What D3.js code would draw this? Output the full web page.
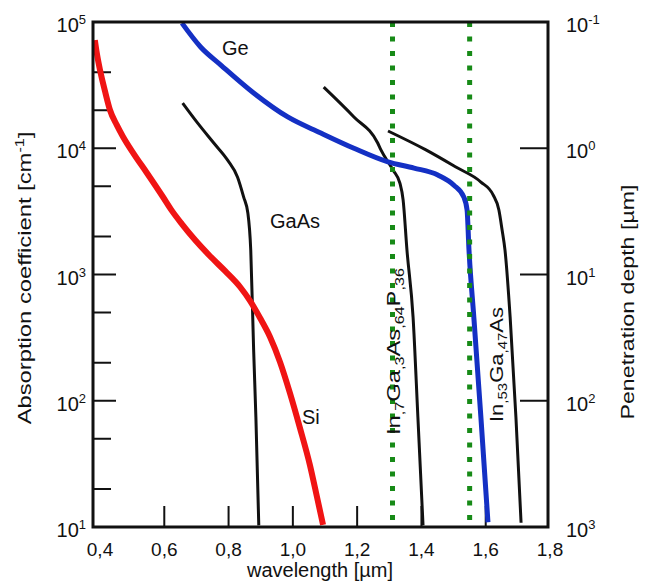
<!DOCTYPE html>
<html>
<head>
<meta charset="utf-8">
<script src="https://cdn.jsdelivr.net/npm/d3@7/dist/d3.min.js"></script>
<style>
  body { margin: 0; background: #fff; }
  svg text { font-family: "Liberation Sans", Arial, sans-serif; fill: #111; }
</style>
</head>
<body>
<script>
// values: wavelength in µm, absorption coefficient in cm^-1
var siWl      = [0.384, 0.390, 0.400, 0.416, 0.431, 0.452, 0.472, 0.504, 0.546, 0.596, 0.624, 0.655, 0.696, 0.742, 0.789, 0.836, 0.867, 0.898, 0.929, 0.960, 0.991, 1.022, 1.053, 1.075, 1.094];
var siAlpha   = [71900, 56800, 41700, 28000, 20100, 15300, 12300, 9120, 6370, 4110, 3190, 2510, 1876, 1402, 1067, 796, 617, 452, 320, 203, 115, 61, 31, 17.3, 10.4];

var geWl      = [0.655, 0.713, 0.776, 0.878, 0.984, 1.087, 1.190, 1.296, 1.377, 1.451, 1.501, 1.532, 1.542, 1.548, 1.563, 1.585, 1.607];
var geAlpha   = [98000, 63400, 45600, 27400, 17700, 13200, 10000, 7800, 6970, 6140, 5100, 4100, 3240, 1560, 460, 74, 10.9];

var gaasWl    = [0.657, 0.704, 0.754, 0.797, 0.828, 0.847, 0.860, 0.869, 0.878, 0.885, 0.894];
var gaasAlpha = [22800, 15800, 11000, 8050, 5900, 4100, 3070, 1560, 252, 74, 10.3];

var ingaaspWl    = [1.096, 1.190, 1.264, 1.274, 1.312, 1.333, 1.343, 1.355, 1.374, 1.389, 1.405];
var ingaaspAlpha = [30500, 17700, 11000, 9700, 6700, 5300, 3900, 1560, 460, 74, 10.3];

var ingaasWl    = [1.296, 1.414, 1.507, 1.585, 1.623, 1.641, 1.651, 1.660, 1.676, 1.694, 1.710];
var ingaasAlpha = [13700, 9700, 7100, 5400, 4270, 3240, 2250, 1560, 460, 74, 10.8];

// telecom wavelengths marked with dotted lines
var markerWl = [1.31, 1.55];

var xTicks      = [0.4, 0.6, 0.8, 1.0, 1.2, 1.4, 1.6, 1.8];
var xTickLabels = ["0,4", "0,6", "0,8", "1,0", "1,2", "1,4", "1,6", "1,8"];
var yMajor      = [1e1, 1e2, 1e3, 1e4, 1e5];
var yExp        = ["1", "2", "3", "4", "5"];
var yMinor      = [20, 50, 200, 500, 2000, 5000, 20000, 40000];
var depthTicks  = [1000, 100, 10, 1, 0.1];        // µm
var depthExp    = ["3", "2", "1", "0", "-1"];

var W = 651, H = 583;
var box = {left: 93, right: 548, top: 22, bottom: 527};

var svg = d3.select("body").append("svg")
  .attr("width", W)
  .attr("height", H);

var x = d3.scaleLinear().domain([0.4, 1.8]).range([100, 550]);
var y = d3.scaleLog().domain([10, 1e5]).range([box.bottom, box.top]);
var depth = d3.scaleLog().domain([1000, 0.1]).range([box.bottom, box.top]);

// inner ticks
var ticks = svg.append("g").attr("stroke", "#111").attr("stroke-width", 2);
ticks.selectAll(".xt").data(xTicks.slice(1, -1)).enter().append("line")
  .attr("x1", d => x(d)).attr("x2", d => x(d))
  .attr("y1", box.bottom).attr("y2", box.bottom - 21);
ticks.selectAll(".ymaj").data(yMajor.slice(1, -1)).enter().append("line")
  .attr("x1", box.left).attr("x2", box.left + 23)
  .attr("y1", d => y(d)).attr("y2", d => y(d));
ticks.selectAll(".ymin").data(yMinor).enter().append("line")
  .attr("x1", box.left).attr("x2", box.left + 18)
  .attr("y1", d => y(d)).attr("y2", d => y(d));
ticks.selectAll(".dt").data(depthTicks.slice(1, -1)).enter().append("line")
  .attr("x1", box.right - 28).attr("x2", box.right)
  .attr("y1", d => depth(d)).attr("y2", d => depth(d));

// curves
var series = [
  {wl: gaasWl,    alpha: gaasAlpha,    color: "#111",    width: 3},
  {wl: ingaaspWl, alpha: ingaaspAlpha, color: "#111",    width: 3},
  {wl: ingaasWl,  alpha: ingaasAlpha,  color: "#111",    width: 3},
  {wl: siWl,      alpha: siAlpha,      color: "#f01414", width: 6},
  {wl: geWl,      alpha: geAlpha,      color: "#1430c4", width: 5}
];

var line = d3.line()
  .x(d => x(d[0]))
  .y(d => y(d[1]))
  .curve(d3.curveMonotoneX);

svg.append("g").selectAll("path").data(series).enter().append("path")
  .attr("d", s => line(d3.zip(s.wl, s.alpha)))
  .attr("fill", "none")
  .attr("stroke", s => s.color)
  .attr("stroke-width", s => s.width);

// dotted wavelength markers
svg.append("g").selectAll("line").data(markerWl).enter().append("line")
  .attr("x1", d => x(d)).attr("x2", d => x(d))
  .attr("y1", box.top).attr("y2", box.bottom)
  .attr("stroke", "#178a17")
  .attr("stroke-width", 5)
  .attr("stroke-dasharray", "5,9.5");

// frame
svg.append("rect")
  .attr("x", box.left).attr("y", box.top)
  .attr("width", box.right - box.left).attr("height", box.bottom - box.top)
  .attr("fill", "none").attr("stroke", "#111").attr("stroke-width", 3);

// x tick labels
svg.append("g").selectAll("text").data(xTicks).enter().append("text")
  .attr("x", d => x(d)).attr("y", 556)
  .attr("text-anchor", "middle").attr("font-size", 19)
  .text((d, i) => xTickLabels[i]);

// power-of-ten labels
function power(g, exp) {
  g.append("tspan").text("10");
  g.append("tspan").attr("dy", -8).attr("font-size", 13).text(exp);
}
svg.append("g").selectAll("text").data(yMajor).enter().append("text")
  .attr("x", 86).attr("y", d => y(d) + 10)
  .attr("text-anchor", "end").attr("font-size", 20)
  .each(function(d, i) { power(d3.select(this), yExp[i]); });
svg.append("g").selectAll("text").data(depthTicks).enter().append("text")
  .attr("x", 566).attr("y", d => depth(d) + 10)
  .attr("font-size", 20)
  .each(function(d, i) { power(d3.select(this), depthExp[i]); });

// vertical text, stretched along y to a given length
function vText(cx, cy, size, parts, len, anchor) {
  var t = svg.append("text").attr("font-size", size).attr("text-anchor", anchor);
  parts.forEach(function(p) {
    if (p.sub) t.append("tspan").attr("dy", 4).attr("font-size", size * 0.68).text(p.sub);
    else if (p.sup) t.append("tspan").attr("dy", -7).attr("font-size", size * 0.68).text(p.sup);
    else t.append("tspan").attr("dy", p.dy || 0).text(p.t);
  });
  var k = len / t.node().getComputedTextLength();
  t.attr("transform", "translate(" + cx + "," + cy + ") scale(1," + k + ") rotate(-90)");
  return t;
}

vText(31, 278, 18, [{t: "Absorption coefficient [cm"}, {sup: "-1"}, {t: "]", dy: 7}], 293, "middle");
vText(634, 302, 18, [{t: "Penetration depth [µm]"}], 235, "middle");

vText(400, 435, 18, [{t: "In"}, {sub: ",7"}, {t: "Ga", dy: -4}, {sub: ",3"}, {t: "As", dy: -4},
                     {sub: ",64"}, {t: "P", dy: -4}, {sub: ",36"}], 167, "start");
vText(503, 422, 18, [{t: "In"}, {sub: ",53"}, {t: "Ga", dy: -4}, {sub: ",47"}, {t: "As", dy: -4}], 115, "start");

svg.append("text").attr("x", 320).attr("y", 577)
  .attr("text-anchor", "middle").attr("font-size", 20)
  .text("wavelength [µm]");

// curve names
var names = [["Ge", 222, 55], ["GaAs", 270, 228], ["Si", 302, 424]];
svg.append("g").selectAll("text").data(names).enter().append("text")
  .attr("x", d => d[1]).attr("y", d => d[2])
  .attr("font-size", 20)
  .text(d => d[0]);
</script>
</body>
</html>
